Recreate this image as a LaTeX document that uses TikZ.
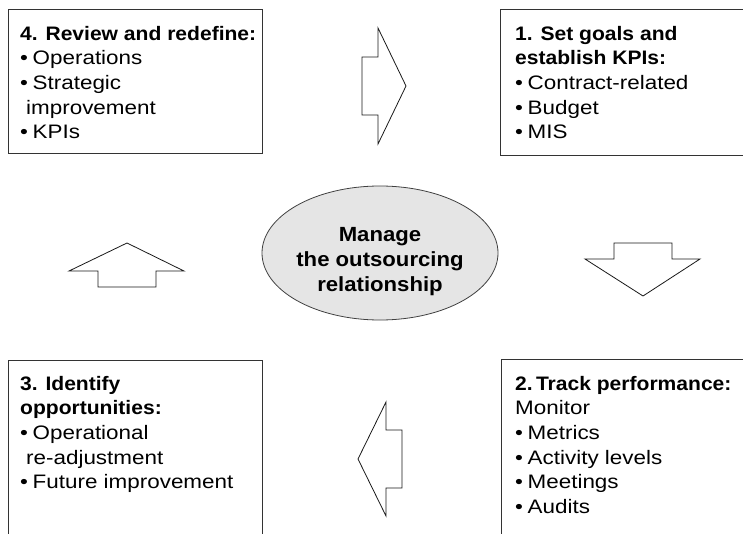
\documentclass[tikz,border=0pt]{standalone}
\usepackage{fontspec}
\setmainfont[FakeStretch=1.15, BoldFeatures={FakeStretch=1.08}]{Liberation Sans}
\usetikzlibrary{shapes.geometric}
\newcommand{\itm}{\makebox[12.5pt][l]{•}}
\tikzset{
  boxframe/.style={draw=black!80, line width=1.1pt, rectangle, inner sep=0pt, anchor=north west},
  boxtext/.style={anchor=north west, inner sep=0pt, align=left, font=\fontsize{19.5}{24.6}\selectfont},
  blockarrow/.style={draw=black!90, line width=0.8pt, fill=white, line join=miter},
}
\begin{document}
\begin{tikzpicture}[x=1pt,y=-1pt]
\useasboundingbox (0,0) rectangle (743,534);
\clip (0,0) rectangle (743,534);
% boxes
\node[boxframe, minimum width=254pt, minimum height=144pt] (b4) at (8,9) {};
\node[boxframe, minimum width=260pt, minimum height=146pt] (b1) at (500,9) {};
\node[boxframe, minimum width=254pt, minimum height=190pt] (b3) at (8,360) {};
\node[boxframe, minimum width=260pt, minimum height=190pt] (b2) at (501,359) {};
% texts
\node[boxtext] (t4) at (20,26) {\textbf{4. Review and redefine:}\\
\itm Operations\\
\itm Strategic\\
\hspace*{6pt}improvement\\
\itm KPIs};
\node[boxtext] (t1) at (515,26) {\textbf{1. Set goals and}\\
\textbf{establish KPIs:}\\
\itm Contract-related\\
\itm Budget\\
\itm MIS};
\node[boxtext] (t3) at (20,376) {\textbf{3. Identify}\\
\textbf{opportunities:}\\
\itm Operational\\
\hspace*{6pt}re-adjustment\\
\itm Future improvement};
\node[boxtext] (t2) at (515,376) {\textbf{2.\,Track performance:}\\
Monitor\\
\itm Metrics\\
\itm Activity levels\\
\itm Meetings\\
\itm Audits};
% centre ellipse
\node[ellipse, draw=black!75, line width=0.8pt, fill=black!10, minimum width=236pt, minimum height=134pt, inner sep=0pt] (m) at (380,253) {};
\node[align=center, inner sep=0pt, font=\fontsize{20.5}{25}\selectfont\bfseries] (mt) at (380,262) {Manage\\the outsourcing\\relationship};
% block arrows
\draw[blockarrow] (362,57) -- (378,57) -- (378,28) -- (406,86) -- (378,144) -- (378,115) -- (362,115) -- cycle;
\draw[blockarrow] (614,243) -- (672,243) -- (672,259) -- (700,259) -- (643,296) -- (585,259) -- (614,259) -- cycle;
\draw[blockarrow] (402,430) -- (386,430) -- (386,402) -- (358,459) -- (386,516) -- (386,488) -- (402,488) -- cycle;
\draw[blockarrow] (127,243) -- (184,271) -- (156,271) -- (156,287) -- (98,287) -- (98,271) -- (69,271) -- cycle;
\end{tikzpicture}
\end{document}
